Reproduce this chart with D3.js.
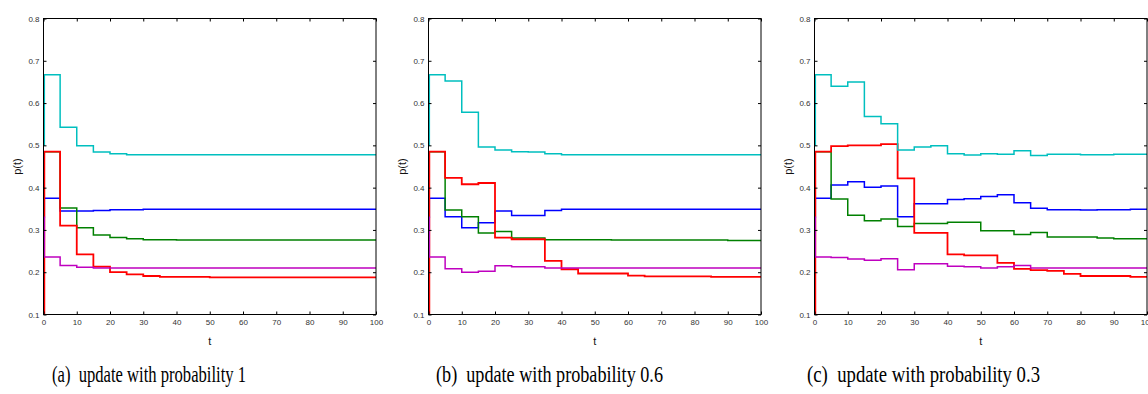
<!DOCTYPE html>
<html><head><meta charset="utf-8">
<script src="https://cdn.jsdelivr.net/npm/d3@7"></script>
<style>html,body{margin:0;padding:0;background:#fff;overflow:hidden}</style>
</head><body>
<svg id="c" width="1148" height="394"></svg>
<script>
// ---------- data ----------
const captions = ["(a)  update with probability 1", "(b)  update with probability 0.6", "(c)  update with probability 0.3"];
const xTicks = [0,10,20,30,40,50,60,70,80,90,100];
const yTicks = [0.1,0.2,0.3,0.4,0.5,0.6,0.7,0.8];
const stepStarts = [0,5,10,15,20,25,30,35,40,45,50,55,60,65,70,75,80,85,90,95];
const seriesNames = ["blue","green","red","cyan","magenta"];
const seriesColors = ["#0000ff","#008000","#ff0000","#00bfbf","#bf00bf"];
const startValues = [0.33, 0.485, 0.1, 0.5, 0.33];

// panel (a)
const aBlue    = [0.375,0.345,0.345,0.346,0.348,0.348,0.349,0.349,0.349,0.349,0.349,0.349,0.349,0.349,0.349,0.349,0.349,0.349,0.349,0.349];
const aGreen   = [0.485,0.352,0.305,0.288,0.282,0.279,0.277,0.277,0.276,0.276,0.276,0.276,0.276,0.276,0.276,0.276,0.276,0.276,0.276,0.276];
const aRed     = [0.485,0.310,0.242,0.213,0.200,0.195,0.191,0.189,0.189,0.189,0.188,0.188,0.188,0.188,0.188,0.188,0.188,0.188,0.188,0.188];
const aCyan    = [0.667,0.543,0.499,0.484,0.480,0.478,0.478,0.478,0.478,0.478,0.478,0.478,0.478,0.478,0.478,0.478,0.478,0.478,0.478,0.478];
const aMagenta = [0.236,0.216,0.212,0.210,0.210,0.210,0.210,0.210,0.210,0.210,0.210,0.210,0.210,0.210,0.210,0.210,0.210,0.210,0.210,0.210];
// panel (b)
const bBlue    = [0.375,0.331,0.305,0.317,0.345,0.334,0.334,0.346,0.349,0.349,0.349,0.349,0.349,0.349,0.349,0.349,0.349,0.349,0.349,0.349];
const bGreen   = [0.485,0.347,0.331,0.293,0.296,0.281,0.281,0.277,0.277,0.277,0.277,0.276,0.276,0.276,0.276,0.276,0.276,0.276,0.275,0.275];
const bRed     = [0.485,0.423,0.408,0.411,0.282,0.278,0.278,0.227,0.207,0.197,0.197,0.197,0.192,0.190,0.190,0.190,0.190,0.189,0.189,0.189];
const bCyan    = [0.667,0.652,0.578,0.496,0.489,0.485,0.484,0.480,0.478,0.478,0.478,0.478,0.478,0.478,0.478,0.478,0.478,0.478,0.478,0.478];
const bMagenta = [0.236,0.208,0.200,0.202,0.215,0.213,0.213,0.210,0.210,0.210,0.210,0.210,0.210,0.210,0.210,0.210,0.210,0.210,0.210,0.210];
// panel (c)
const cBlue    = [0.375,0.406,0.414,0.401,0.404,0.331,0.362,0.362,0.372,0.374,0.379,0.383,0.364,0.351,0.348,0.348,0.347,0.348,0.348,0.349];
const cGreen   = [0.485,0.373,0.335,0.322,0.326,0.308,0.315,0.315,0.318,0.318,0.298,0.298,0.289,0.294,0.283,0.283,0.283,0.281,0.279,0.279];
const cRed     = [0.485,0.498,0.500,0.500,0.503,0.422,0.293,0.293,0.242,0.240,0.240,0.222,0.208,0.205,0.203,0.196,0.191,0.191,0.191,0.189];
const cCyan    = [0.667,0.640,0.650,0.568,0.551,0.489,0.496,0.499,0.480,0.477,0.480,0.479,0.487,0.476,0.479,0.479,0.478,0.478,0.479,0.479];
const cMagenta = [0.236,0.235,0.231,0.228,0.232,0.206,0.220,0.220,0.214,0.213,0.210,0.213,0.216,0.210,0.210,0.210,0.210,0.210,0.210,0.210];

const panelSeries = [
  [aBlue,aGreen,aRed,aCyan,aMagenta],
  [bBlue,bGreen,bRed,bCyan,bMagenta],
  [cBlue,cGreen,cRed,cCyan,cMagenta]
];

// ---------- layout ----------
const plotLefts = [43.5, 428.5, 814.5];
const plotW = 332.5, plotTop = 18.5, plotBottom = 314.5;
const captionX = [52, 436, 807];
const captionW = [194, 227, 233];

const svg = d3.select("#c");
const y = d3.scaleLinear().domain([0.1,0.8]).range([plotBottom, plotTop]);

panelSeries.forEach((series, pi) => {
  const left = plotLefts[pi];
  const x = d3.scaleLinear().domain([0,100]).range([left, left+plotW]);
  const g = svg.append("g");
  const clipId = "clip"+pi;
  svg.append("clipPath").attr("id", clipId).append("rect")
    .attr("x", left).attr("y", plotTop).attr("width", plotW).attr("height", plotBottom-plotTop);

  // lines
  const line = d3.line().x(d=>x(d[0])).y(d=>y(d[1])).curve(d3.curveStepAfter);
  const lg = g.append("g").attr("clip-path", `url(#${clipId})`);
  series.forEach((vals, si) => {
    const pts = [[0, startValues[si]], [0.25, vals[0]]];
    for (let k=1;k<vals.length;k++) pts.push([stepStarts[k], vals[k]]);
    pts.push([100, vals[vals.length-1]]);
    lg.append("path").attr("d", line(pts)).attr("fill","none")
      .attr("stroke", seriesColors[si]).attr("stroke-width", si===2 ? 1.8 : 1.5)
      .attr("stroke-linejoin","miter");
  });

  // axes (MATLAB style, ticks inward on all sides)
  const tickStyle = s => s.call(a => a.select(".domain").remove())
    .selectAll("text").attr("fill","#333").style("font-family","'Liberation Sans', Arial, sans-serif").style("font-size","8px");
  const bottom = g.append("g").attr("transform",`translate(0,${plotBottom})`)
    .call(d3.axisBottom(x).tickValues(xTicks).tickSizeInner(-3).tickSizeOuter(0).tickPadding(5).tickFormat(d3.format("d")));
  tickStyle(bottom);
  const top = g.append("g").attr("transform",`translate(0,${plotTop})`)
    .call(d3.axisTop(x).tickValues(xTicks).tickSizeInner(-3).tickSizeOuter(0).tickFormat(""));
  top.select(".domain").remove();
  const leftAx = g.append("g").attr("transform",`translate(${left},0)`)
    .call(d3.axisLeft(y).tickValues(yTicks).tickSizeInner(-3).tickSizeOuter(0).tickPadding(4).tickFormat(d3.format(".1f")));
  tickStyle(leftAx);
  const rightAx = g.append("g").attr("transform",`translate(${left+plotW},0)`)
    .call(d3.axisRight(y).tickValues(yTicks).tickSizeInner(-3).tickSizeOuter(0).tickFormat(""));
  rightAx.select(".domain").remove();
  g.selectAll(".tick line").attr("stroke","#000");

  g.append("rect").attr("x",left).attr("y",plotTop).attr("width",plotW).attr("height",plotBottom-plotTop)
    .attr("fill","none").attr("stroke","#000").attr("stroke-width",1);

  // axis labels
  g.append("text").attr("x", left+plotW/2).attr("y", 345).attr("text-anchor","middle")
    .style("font-family","'Liberation Sans', Arial, sans-serif").style("font-size","11px").attr("fill","#111").text("t");
  g.append("text").attr("transform",`translate(${left-26},${(plotTop+plotBottom)/2}) rotate(-90)`)
    .attr("text-anchor","middle").attr("dy","0.35em")
    .style("font-family","'Liberation Sans', Arial, sans-serif").style("font-size","11px").attr("fill","#111").text("p(t)");

  // caption (condensed serif, as in the reference)
  svg.append("text").attr("x", captionX[pi]).attr("y", 382)
    .attr("textLength", captionW[pi]).attr("lengthAdjust","spacingAndGlyphs")
    .style("font-family","'Liberation Serif', 'Times New Roman', serif").style("font-size","23px")
    .attr("fill","#000").attr("xml:space","preserve").style("white-space","pre").text(captions[pi]);
});
</script>
</body></html>
